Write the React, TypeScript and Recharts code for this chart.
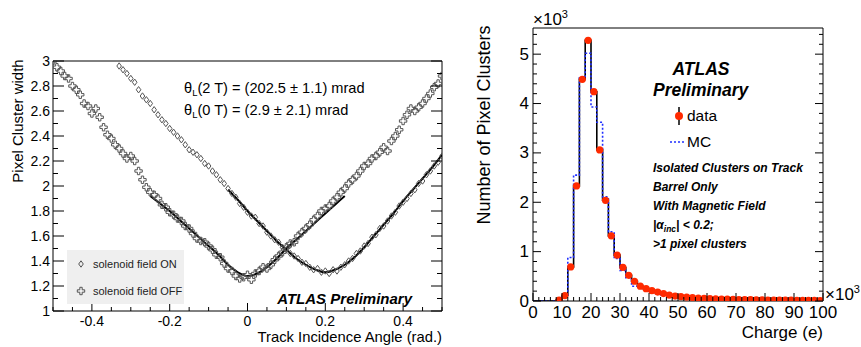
import React from 'react';
import { ComposedChart, Line, Scatter, XAxis, YAxis } from 'recharts';

const FONT = "'Liberation Sans', Arial, Helvetica, sans-serif";

// ---- left panel: cluster width vs track incidence angle ----
const ON_ANGLE = [
  -0.33, -0.32, -0.31, -0.3, -0.29, -0.28, -0.27, -0.26, -0.25, -0.24, -0.23, -0.22, -0.21, -0.2,
  -0.19, -0.18, -0.17, -0.16, -0.15, -0.14, -0.13, -0.12, -0.11, -0.1, -0.09, -0.08, -0.07, -0.06,
  -0.05, -0.04, -0.03, -0.02, -0.01, 0, 0.01, 0.02, 0.03, 0.04, 0.05, 0.06, 0.07, 0.08, 0.09, 0.1,
  0.11, 0.12, 0.13, 0.14, 0.15, 0.16, 0.17, 0.18, 0.19, 0.2, 0.21, 0.22, 0.23, 0.24, 0.25, 0.26,
  0.27, 0.28, 0.29, 0.3, 0.31, 0.32, 0.33, 0.34, 0.35, 0.36, 0.37, 0.38, 0.39, 0.4, 0.41, 0.42,
  0.43, 0.44, 0.45, 0.46, 0.47, 0.48, 0.49, 0.5,
];
const ON_WIDTH = [
  2.96, 2.93, 2.9, 2.86, 2.83, 2.77, 2.72, 2.69, 2.66, 2.61, 2.57, 2.53, 2.5, 2.46,
  2.43, 2.4, 2.37, 2.33, 2.29, 2.27, 2.25, 2.22, 2.18, 2.16, 2.12, 2.09, 2.05, 2.02,
  1.98, 1.94, 1.91, 1.86, 1.83, 1.79, 1.76, 1.75, 1.7, 1.68, 1.63, 1.6, 1.57, 1.55, 1.51, 1.49,
  1.46, 1.44, 1.42, 1.39, 1.38, 1.35, 1.33, 1.34, 1.31, 1.32, 1.3, 1.33, 1.32, 1.35, 1.37, 1.4,
  1.42, 1.46, 1.48, 1.52, 1.54, 1.59, 1.61, 1.66, 1.68, 1.72, 1.76, 1.79, 1.84, 1.87, 1.9, 1.94,
  1.97, 2.02, 2.04, 2.09, 2.12, 2.16, 2.19, 2.24,
];

const OFF_ANGLE = [
  -0.5, -0.49, -0.48, -0.47, -0.46, -0.45, -0.44, -0.43, -0.42, -0.41, -0.4, -0.39, -0.38, -0.37,
  -0.36, -0.35, -0.34, -0.33, -0.32, -0.31, -0.3, -0.29, -0.28, -0.27, -0.26, -0.25, -0.24, -0.23,
  -0.22, -0.21, -0.2, -0.19, -0.18, -0.17, -0.16, -0.15, -0.14, -0.13, -0.12, -0.11, -0.1, -0.09,
  -0.08, -0.07, -0.06, -0.05, -0.04, -0.03, -0.02, -0.01, 0, 0.01, 0.02, 0.03, 0.04, 0.05, 0.06,
  0.07, 0.08, 0.09, 0.1, 0.11, 0.12, 0.13, 0.14, 0.15, 0.16, 0.17, 0.18, 0.19, 0.2, 0.21, 0.22,
  0.23, 0.24, 0.25, 0.26, 0.27, 0.28, 0.29, 0.3, 0.31, 0.32, 0.33, 0.34, 0.35, 0.36, 0.37, 0.38,
  0.39, 0.4, 0.41, 0.42, 0.43, 0.44, 0.45, 0.46, 0.47, 0.48, 0.49, 0.5,
];
const OFF_WIDTH = [
  3.0, 2.95, 2.92, 2.88, 2.86, 2.8, 2.77, 2.73, 2.66, 2.64, 2.58, 2.62, 2.55, 2.47,
  2.41, 2.38, 2.33, 2.3, 2.26, 2.22, 2.24, 2.2, 2.12, 2.05, 1.99, 1.95, 1.93, 1.9,
  1.85, 1.83, 1.79, 1.77, 1.74, 1.72, 1.68, 1.66, 1.62, 1.58, 1.56, 1.55, 1.52, 1.49,
  1.45, 1.43, 1.38, 1.34, 1.32, 1.28, 1.26, 1.27, 1.29, 1.25, 1.3, 1.32, 1.35, 1.34, 1.37,
  1.41, 1.44, 1.47, 1.51, 1.54, 1.55, 1.6, 1.63, 1.66, 1.69, 1.73, 1.76, 1.8, 1.82, 1.84, 1.88,
  1.91, 1.95, 1.98, 2.02, 2.05, 2.08, 2.12, 2.16, 2.18, 2.22, 2.24, 2.27, 2.31, 2.28, 2.36, 2.4,
  2.45, 2.52, 2.57, 2.62, 2.6, 2.63, 2.66, 2.7, 2.74, 2.79, 2.82, 2.88,
];

// fitted curves
const FIT_OFF_ANGLE = [
  -0.25, -0.225, -0.2, -0.175, -0.15, -0.125, -0.1, -0.075, -0.05, -0.025, 0,
  0.025, 0.05, 0.075, 0.1, 0.125, 0.15, 0.175, 0.2, 0.225, 0.25,
];
const FIT_OFF_WIDTH = [
  1.92, 1.86, 1.8, 1.73, 1.66, 1.59, 1.52, 1.45, 1.37, 1.31, 1.28,
  1.3, 1.35, 1.42, 1.5, 1.57, 1.64, 1.71, 1.78, 1.85, 1.92,
];
const FIT_ON_ANGLE = [
  -0.05, -0.025, 0, 0.025, 0.05, 0.075, 0.1, 0.125, 0.15, 0.175, 0.2, 0.225,
  0.25, 0.275, 0.3, 0.325, 0.35, 0.375, 0.4, 0.425, 0.45, 0.475, 0.5,
];
const FIT_ON_WIDTH = [
  1.97, 1.89, 1.8, 1.72, 1.64, 1.56, 1.49, 1.42, 1.37, 1.33, 1.31, 1.33,
  1.37, 1.43, 1.51, 1.6, 1.69, 1.78, 1.88, 1.97, 2.06, 2.15, 2.25,
];

const LEFT_X_TICKS = [
  -0.5, -0.45, -0.4, -0.35, -0.3, -0.25, -0.2, -0.15, -0.1, -0.05, 0,
  0.05, 0.1, 0.15, 0.2, 0.25, 0.3, 0.35, 0.4, 0.45, 0.5,
];
const LEFT_X_LABELS = [-0.4, -0.2, 0, 0.2, 0.4];
const LEFT_Y_TICKS = [1, 1.1, 1.2, 1.3, 1.4, 1.5, 1.6, 1.7, 1.8, 1.9, 2, 2.1, 2.2, 2.3, 2.4, 2.5, 2.6, 2.7, 2.8, 2.9, 3];
const LEFT_Y_LABELS = [1, 1.2, 1.4, 1.6, 1.8, 2, 2.2, 2.4, 2.6, 2.8, 3];

// ---- right panel: cluster charge (x10^3 e), 2k bins ----
const BIN_WIDTH = 2;
const CHARGE_BINS = [
  1, 3, 5, 7, 9, 11, 13, 15, 17, 19, 21, 23, 25, 27, 29, 31, 33, 35, 37, 39, 41, 43, 45, 47, 49,
  51, 53, 55, 57, 59, 61, 63, 65, 67, 69, 71, 73, 75, 77, 79, 81, 83, 85, 87, 89, 91, 93, 95, 97, 99,
];
const DATA_COUNTS = [
  0, 0, 0, 0, 0.02, 0.11, 0.69, 2.33, 4.49, 5.28, 4.24, 3.06, 2.04, 1.32, 0.93, 0.68, 0.52, 0.4, 0.3, 0.25,
  0.21, 0.18, 0.15, 0.12, 0.1, 0.09, 0.08, 0.07, 0.06, 0.055, 0.05, 0.045, 0.04, 0.04, 0.035, 0.03, 0.03,
  0.03, 0.025, 0.025, 0.02, 0.02, 0.02, 0.02, 0.02, 0.015, 0.015, 0.015, 0.015, 0.01,
];
const MC_COUNTS = [
  0, 0, 0, 0, 0, 0.08, 0.88, 2.55, 4.52, 5.02, 3.93, 3.62, 2.11, 1.4, 0.86, 0.62, 0.47, 0.3, 0.26, 0.23,
  0.2, 0.17, 0.13, 0.11, 0.09, 0.07, 0.06, 0.05, 0.03, 0.04, 0.03, 0.03, 0.02, 0.025, 0.02, 0.02, 0.02,
  0.015, 0.015, 0.015, 0.01, 0.015, 0.01, 0.01, 0.01, 0.01, 0.01, 0.01, 0.005, 0.01,
];

const RIGHT_X_TICKS = [
  0, 2, 4, 6, 8, 10, 12, 14, 16, 18, 20, 22, 24, 26, 28, 30, 32, 34, 36, 38, 40, 42, 44, 46, 48, 50,
  52, 54, 56, 58, 60, 62, 64, 66, 68, 70, 72, 74, 76, 78, 80, 82, 84, 86, 88, 90, 92, 94, 96, 98, 100,
];
const RIGHT_X_LABELS = [0, 10, 20, 30, 40, 50, 60, 70, 80, 90, 100];
const RIGHT_Y_TICKS = [
  0, 0.2, 0.4, 0.6, 0.8, 1, 1.2, 1.4, 1.6, 1.8, 2, 2.2, 2.4, 2.6, 2.8, 3, 3.2, 3.4, 3.6, 3.8, 4,
  4.2, 4.4, 4.6, 4.8, 5, 5.2, 5.4,
];
const RIGHT_Y_LABELS = [0, 1, 2, 3, 4, 5];

// tables for the library
const onPoints = ON_ANGLE.map((x, i) => ({ x, y: ON_WIDTH[i] }));
const offPoints = OFF_ANGLE.map((x, i) => ({ x, y: OFF_WIDTH[i] }));
const fitOff = FIT_OFF_ANGLE.map((x, i) => ({ x, y: FIT_OFF_WIDTH[i] }));
const fitOn = FIT_ON_ANGLE.map((x, i) => ({ x, y: FIT_ON_WIDTH[i] }));

const stepTable = (counts: number[]) => [
  ...CHARGE_BINS.map((c, i) => ({ x: c - BIN_WIDTH / 2, y: counts[i] })),
  { x: CHARGE_BINS[CHARGE_BINS.length - 1] + BIN_WIDTH / 2, y: counts[counts.length - 1] },
];
const dataStep = stepTable(DATA_COUNTS);
const mcStep = stepTable(MC_COUNTS);
const dataPoints = CHARGE_BINS.map((x, i) => ({ x, y: DATA_COUNTS[i] })).filter((p) => p.y > 0);

const isIn = (list: number[], v: number) => list.some((l) => Math.abs(l - v) < 1e-6);

// ROOT-style ticks pointing into the frame
const axisTick =
  (side: 'bottom' | 'top' | 'left' | 'right', labels: number[], major: number, minor: number, fontSize: number, labelGap: number) =>
  (props: any) => {
    const { x, y, payload } = props;
    const v = payload.value;
    const big = isIn(labels, v);
    const len = big ? major : minor;
    let line;
    if (side === 'bottom') line = <line x1={x} y1={y} x2={x} y2={y - len} stroke="#000" />;
    else if (side === 'top') line = <line x1={x} y1={y} x2={x} y2={y + len} stroke="#000" />;
    else if (side === 'left') line = <line x1={x} y1={y} x2={x + len} y2={y} stroke="#000" />;
    else line = <line x1={x} y1={y} x2={x - len} y2={y} stroke="#000" />;
    let label = null;
    if (big && side === 'bottom')
      label = (
        <text x={x} y={y + labelGap} textAnchor="middle" fontSize={fontSize} fontFamily={FONT} fill="#000">
          {String(v)}
        </text>
      );
    if (big && side === 'left')
      label = (
        <text x={x - labelGap} y={y} textAnchor="end" dominantBaseline="central" fontSize={fontSize} fontFamily={FONT} fill="#000">
          {String(v)}
        </text>
      );
    return (
      <g>
        {line}
        {label}
      </g>
    );
  };

const Diamond = (p: any) => {
  const { cx, cy } = p;
  if (cx == null || cy == null) return <g />;
  return (
    <path
      d={`M${cx},${cy - 3.2}L${cx + 2.3},${cy}L${cx},${cy + 3.2}L${cx - 2.3},${cy}Z`}
      fill="none"
      stroke="#555"
      strokeWidth={1}
    />
  );
};

const OpenCross = (p: any) => {
  const { cx, cy } = p;
  if (cx == null || cy == null) return <g />;
  const a = 1.2;
  const l = 3.7;
  const pts = [[-a, -l], [a, -l], [a, -a], [l, -a], [l, a], [a, a], [a, l], [-a, l], [-a, a], [-l, a], [-l, -a], [-a, -a]];
  const d = 'M' + pts.map(([dx, dy]) => `${cx + dx},${cy + dy}`).join('L') + 'Z';
  return <path d={d} fill="none" stroke="#555" strokeWidth={1} />;
};

const RedDot = (p: any) => {
  const { cx, cy } = p;
  if (cx == null || cy == null) return <g />;
  return <circle cx={cx} cy={cy} r={3.6} fill="#ff2a00" />;
};

// axes are 1px wide/high so that recharts still draws them
const frameAxes = (xDom: number[], yDom: number[], xTicks: number[], yTicks: number[], xLab: number[], yLab: number[],
  xMaj: number, xMin: number, yMaj: number, yMin: number, fs: number, xGap: number, yGap: number) => [
  <XAxis key="xb" xAxisId="b" dataKey="x" type="number" domain={xDom} allowDataOverflow ticks={xTicks} interval={0}
    height={1} tickSize={0} tickMargin={0} tickLine={false} axisLine={{ stroke: '#000' }}
    tick={axisTick('bottom', xLab, xMaj, xMin, fs, xGap)} />,
  <XAxis key="xt" xAxisId="t" orientation="top" type="number" domain={xDom} allowDataOverflow ticks={xTicks} interval={0}
    height={1} tickSize={0} tickMargin={0} tickLine={false} axisLine={{ stroke: '#000' }}
    tick={axisTick('top', xLab, xMaj, xMin, fs, 0)} />,
  <YAxis key="yl" yAxisId="l" dataKey="y" type="number" domain={yDom} allowDataOverflow ticks={yTicks} interval={0}
    width={1} tickSize={0} tickMargin={0} tickLine={false} axisLine={{ stroke: '#000' }}
    tick={axisTick('left', yLab, yMaj, yMin, fs, yGap)} />,
  <YAxis key="yr" yAxisId="r" orientation="right" type="number" domain={yDom} allowDataOverflow ticks={yTicks} interval={0}
    width={1} tickSize={0} tickMargin={0} tickLine={false} axisLine={{ stroke: '#000' }}
    tick={axisTick('right', yLab, yMaj, yMin, fs, 0)} />,
];

const LeftPanel = () => (
  <div style={{ position: 'absolute', left: 0, top: 0, width: 450, height: 347 }}>
    <ComposedChart width={450} height={347} margin={{ top: 60, right: 7, bottom: 35, left: 52 }}>
      {frameAxes([-0.5, 0.5], [1, 3], LEFT_X_TICKS, LEFT_Y_TICKS, LEFT_X_LABELS, LEFT_Y_LABELS, 8, 4, 11, 5, 14, 15, 3)}
      <Scatter xAxisId="b" yAxisId="l" data={onPoints} dataKey="y" shape={Diamond} isAnimationActive={false} />
      <Scatter xAxisId="b" yAxisId="l" data={offPoints} dataKey="y" shape={OpenCross} isAnimationActive={false} />
      <Line xAxisId="b" yAxisId="l" data={fitOff} dataKey="y" type="monotone" stroke="#000" strokeWidth={2}
        dot={false} activeDot={false} isAnimationActive={false} />
      <Line xAxisId="b" yAxisId="l" data={fitOn} dataKey="y" type="monotone" stroke="#000" strokeWidth={2}
        dot={false} activeDot={false} isAnimationActive={false} />
    </ComposedChart>
    <svg width={450} height={347} style={{ position: 'absolute', left: 0, top: 0, pointerEvents: 'none' }} fontFamily={FONT}>
      <text x={184} y={93} fontSize={14.6}>
        θ<tspan fontSize={9.5} dy={3}>L</tspan>
        <tspan dy={-3}>(2 T) = (202.5 ± 1.1) mrad</tspan>
      </text>
      <text x={184} y={115} fontSize={14.6}>
        θ<tspan fontSize={9.5} dy={3}>L</tspan>
        <tspan dy={-3}>(0 T) = (2.9 ± 2.1) mrad</tspan>
      </text>
      <rect x={67} y={250} width={117} height={54} fill="#efefef" />
      <Diamond cx={81} cy={264} />
      <text x={93} y={268} fontSize={11} fill="#222">solenoid field ON</text>
      <OpenCross cx={81} cy={291} />
      <text x={93} y={295} fontSize={11} fill="#222">solenoid field OFF</text>
      <text x={412} y={304} textAnchor="end" fontSize={15} fontWeight="bold" fontStyle="italic">ATLAS Preliminary</text>
      <text x={23} y={121} fontSize={15} textAnchor="middle" transform="rotate(-90 23 121)">Pixel Cluster width</text>
      <text x={442} y={342} fontSize={14.8} textAnchor="end">Track Incidence Angle (rad.)</text>
    </svg>
  </div>
);

const RightPanel = () => (
  <div style={{ position: 'absolute', left: 450, top: 0, width: 411, height: 347 }}>
    <ComposedChart width={411} height={347} margin={{ top: 27, right: 37, bottom: 45, left: 82 }}>
      {frameAxes([0, 100], [0, 5.53], RIGHT_X_TICKS, RIGHT_Y_TICKS, RIGHT_X_LABELS, RIGHT_Y_LABELS, 8, 4, 8, 4, 17, 17, 4)}
      <Line xAxisId="b" yAxisId="l" data={dataStep} dataKey="y" type="stepAfter" stroke="#000" strokeWidth={1.6}
        dot={false} activeDot={false} isAnimationActive={false} />
      <Line xAxisId="b" yAxisId="l" data={mcStep} dataKey="y" type="stepAfter" stroke="#1f2fff" strokeWidth={1.6}
        strokeDasharray="2 2" dot={false} activeDot={false} isAnimationActive={false} />
      <Scatter xAxisId="b" yAxisId="l" data={dataPoints} dataKey="y" shape={RedDot} isAnimationActive={false} />
    </ComposedChart>
    <svg width={411} height={347} style={{ position: 'absolute', left: 0, top: 0, pointerEvents: 'none' }} fontFamily={FONT}>
      <text x={83} y={25} fontSize={17}>
        ×10<tspan fontSize={11} dy={-7}>3</tspan>
      </text>
      <text x={375} y={300} fontSize={17}>
        ×10<tspan fontSize={11} dy={-7}>3</tspan>
      </text>
      <text x={373} y={338} fontSize={17} textAnchor="end">Charge (e)</text>
      <text x={40} y={125} fontSize={18} textAnchor="middle" transform="rotate(-90 40 125)">Number of Pixel Clusters</text>
      <text x={251} y={75} fontSize={17.5} textAnchor="middle" fontWeight="bold" fontStyle="italic">ATLAS</text>
      <text x={203} y={96} fontSize={17.5} fontWeight="bold" fontStyle="italic">Preliminary</text>
      <line x1={229} y1={107} x2={229} y2={125} stroke="#000" strokeWidth={1.5} />
      <circle cx={229} cy={116} r={4} fill="#ff2a00" />
      <text x={237} y={121} fontSize={15.5}>data</text>
      <line x1={220} y1={142} x2={235} y2={142} stroke="#1f2fff" strokeWidth={1.6} strokeDasharray="2 2" />
      <text x={237} y={147} fontSize={15.5}>MC</text>
      <g fontSize={12} fontWeight="bold" fontStyle="italic">
        <text x={203} y={172}>Isolated Clusters on Track</text>
        <text x={203} y={191}>Barrel Only</text>
        <text x={203} y={210}>With Magnetic Field</text>
        <text x={203} y={229}>
          |α<tspan fontSize={8.5} dy={3}>inc</tspan>
          <tspan dy={-3}>| &lt; 0.2;</tspan>
        </text>
        <text x={203} y={248}>&gt;1 pixel clusters</text>
      </g>
    </svg>
  </div>
);

export default function App() {
  return (
    <div style={{ position: 'absolute', left: 0, top: 0, width: 861, height: 347, background: '#fff' }}>
      <LeftPanel />
      <RightPanel />
    </div>
  );
}
